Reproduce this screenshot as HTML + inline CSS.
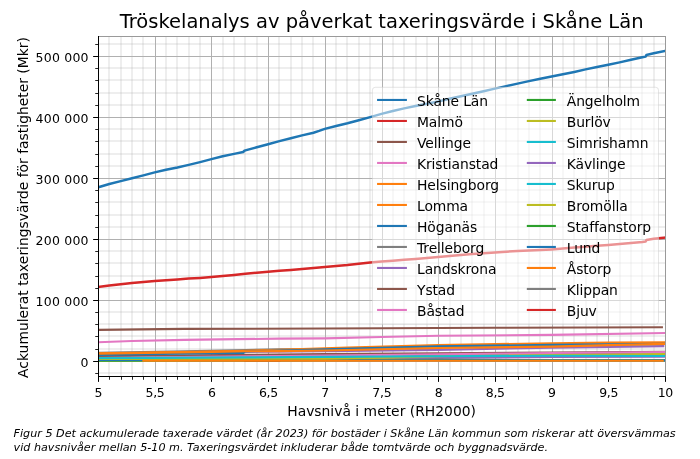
<!DOCTYPE html>
<html lang="sv"><head><meta charset="utf-8"><title>Tröskelanalys av påverkat taxeringsvärde i Skåne Län</title>
<style>html,body{margin:0;padding:0;background:#fff}svg{display:block;will-change:transform}text{font-family:"DejaVu Sans","Liberation Sans",sans-serif;fill:#000}</style>
</head><body>
<svg width="700" height="459" viewBox="0 0 700 459">
<rect x="0" y="0" width="700" height="459" fill="#fff"/>
<g stroke="#b0b0b0" stroke-opacity="0.21" stroke-width="2" fill="none">
<line x1="109" y1="36.5" x2="109" y2="376.5"/>
<line x1="121" y1="36.5" x2="121" y2="376.5"/>
<line x1="132" y1="36.5" x2="132" y2="376.5"/>
<line x1="143" y1="36.5" x2="143" y2="376.5"/>
<line x1="166" y1="36.5" x2="166" y2="376.5"/>
<line x1="177" y1="36.5" x2="177" y2="376.5"/>
<line x1="189" y1="36.5" x2="189" y2="376.5"/>
<line x1="200" y1="36.5" x2="200" y2="376.5"/>
<line x1="223" y1="36.5" x2="223" y2="376.5"/>
<line x1="234" y1="36.5" x2="234" y2="376.5"/>
<line x1="245" y1="36.5" x2="245" y2="376.5"/>
<line x1="257" y1="36.5" x2="257" y2="376.5"/>
<line x1="279" y1="36.5" x2="279" y2="376.5"/>
<line x1="291" y1="36.5" x2="291" y2="376.5"/>
<line x1="302" y1="36.5" x2="302" y2="376.5"/>
<line x1="313" y1="36.5" x2="313" y2="376.5"/>
<line x1="336" y1="36.5" x2="336" y2="376.5"/>
<line x1="347" y1="36.5" x2="347" y2="376.5"/>
<line x1="359" y1="36.5" x2="359" y2="376.5"/>
<line x1="370" y1="36.5" x2="370" y2="376.5"/>
<line x1="393" y1="36.5" x2="393" y2="376.5"/>
<line x1="404" y1="36.5" x2="404" y2="376.5"/>
<line x1="416" y1="36.5" x2="416" y2="376.5"/>
<line x1="427" y1="36.5" x2="427" y2="376.5"/>
<line x1="450" y1="36.5" x2="450" y2="376.5"/>
<line x1="461" y1="36.5" x2="461" y2="376.5"/>
<line x1="472" y1="36.5" x2="472" y2="376.5"/>
<line x1="484" y1="36.5" x2="484" y2="376.5"/>
<line x1="506" y1="36.5" x2="506" y2="376.5"/>
<line x1="518" y1="36.5" x2="518" y2="376.5"/>
<line x1="529" y1="36.5" x2="529" y2="376.5"/>
<line x1="540" y1="36.5" x2="540" y2="376.5"/>
<line x1="563" y1="36.5" x2="563" y2="376.5"/>
<line x1="574" y1="36.5" x2="574" y2="376.5"/>
<line x1="586" y1="36.5" x2="586" y2="376.5"/>
<line x1="597" y1="36.5" x2="597" y2="376.5"/>
<line x1="620" y1="36.5" x2="620" y2="376.5"/>
<line x1="631" y1="36.5" x2="631" y2="376.5"/>
<line x1="642" y1="36.5" x2="642" y2="376.5"/>
<line x1="654" y1="36.5" x2="654" y2="376.5"/>
<line x1="98.5" y1="373" x2="665.5" y2="373"/>
<line x1="98.5" y1="349" x2="665.5" y2="349"/>
<line x1="98.5" y1="336" x2="665.5" y2="336"/>
<line x1="98.5" y1="324" x2="665.5" y2="324"/>
<line x1="98.5" y1="312" x2="665.5" y2="312"/>
<line x1="98.5" y1="288" x2="665.5" y2="288"/>
<line x1="98.5" y1="276" x2="665.5" y2="276"/>
<line x1="98.5" y1="263" x2="665.5" y2="263"/>
<line x1="98.5" y1="251" x2="665.5" y2="251"/>
<line x1="98.5" y1="227" x2="665.5" y2="227"/>
<line x1="98.5" y1="215" x2="665.5" y2="215"/>
<line x1="98.5" y1="202" x2="665.5" y2="202"/>
<line x1="98.5" y1="190" x2="665.5" y2="190"/>
<line x1="98.5" y1="166" x2="665.5" y2="166"/>
<line x1="98.5" y1="154" x2="665.5" y2="154"/>
<line x1="98.5" y1="141" x2="665.5" y2="141"/>
<line x1="98.5" y1="129" x2="665.5" y2="129"/>
<line x1="98.5" y1="105" x2="665.5" y2="105"/>
<line x1="98.5" y1="93" x2="665.5" y2="93"/>
<line x1="98.5" y1="80" x2="665.5" y2="80"/>
<line x1="98.5" y1="68" x2="665.5" y2="68"/>
<line x1="98.5" y1="44" x2="665.5" y2="44"/>
</g>
<g stroke="#b0b0b0" stroke-width="1" fill="none">
<line x1="98.5" y1="36.5" x2="98.5" y2="376.5"/>
<line x1="155.5" y1="36.5" x2="155.5" y2="376.5"/>
<line x1="211.5" y1="36.5" x2="211.5" y2="376.5"/>
<line x1="268.5" y1="36.5" x2="268.5" y2="376.5"/>
<line x1="325.5" y1="36.5" x2="325.5" y2="376.5"/>
<line x1="382.5" y1="36.5" x2="382.5" y2="376.5"/>
<line x1="438.5" y1="36.5" x2="438.5" y2="376.5"/>
<line x1="495.5" y1="36.5" x2="495.5" y2="376.5"/>
<line x1="552.5" y1="36.5" x2="552.5" y2="376.5"/>
<line x1="608.5" y1="36.5" x2="608.5" y2="376.5"/>
<line x1="665.5" y1="36.5" x2="665.5" y2="376.5"/>
<line x1="98.5" y1="361.5" x2="665.5" y2="361.5"/>
<line x1="98.5" y1="300.5" x2="665.5" y2="300.5"/>
<line x1="98.5" y1="239.5" x2="665.5" y2="239.5"/>
<line x1="98.5" y1="178.5" x2="665.5" y2="178.5"/>
<line x1="98.5" y1="117.5" x2="665.5" y2="117.5"/>
<line x1="98.5" y1="56.5" x2="665.5" y2="56.5"/>
</g>
<clipPath id="ax"><rect x="98.5" y="36.5" width="567.0" height="340.0"/></clipPath>
<g clip-path="url(#ax)" fill="none" stroke-width="2.1" stroke-linejoin="round" stroke-linecap="square">
<polyline stroke="#d62728" points="245.4,360.9 279.4,360.9"/>
<polyline stroke="#7f7f7f" points="506.2,360.2 597.0,360.2"/>
<polyline stroke="#17becf" points="98.0,358.6 324.8,359.2 438.2,359.9 551.6,360.2 665.0,360.2"/>
<polyline stroke="#9467bd" points="98.0,360.0 245.4,359.4 324.8,359.0 438.2,358.0 551.6,357.0 665.0,356.8"/>
<polyline stroke="#bcbd22" points="98.0,360.6 211.4,359.6 324.8,358.7 392.8,359.6 438.2,360.3 665.0,360.4"/>
<polyline stroke="#2ca02c" points="98.0,360.7 324.8,360.2 438.2,359.9 551.6,360.2 665.0,360.3"/>
<polyline stroke="#1f77b4" points="98.0,360.0 143.4,360.0 324.8,360.2 551.6,360.4 665.0,360.4"/>
<polyline stroke="#2ca02c" points="98.0,359.0 245.4,358.7 324.8,357.8 438.2,355.7 551.6,354.6 665.0,353.9"/>
<polyline stroke="#bcbd22" points="98.0,359.0 324.8,358.7 438.2,356.2 551.6,354.4 665.0,354.0"/>
<polyline stroke="#8c564b" points="98.0,356.3 245.4,354.9 324.8,354.1 438.2,353.2 551.6,352.6 665.0,351.8"/>
<polyline stroke="#e377c2" points="98.0,358.0 245.4,356.3 324.8,355.5 438.2,354.2 551.6,353.0 665.0,352.0"/>
<polyline stroke="#17becf" points="98.0,358.1 245.4,357.4 324.8,356.9 438.2,356.3 551.6,355.7 665.0,356.0"/>
<polyline stroke="#9467bd" points="98.0,353.9 211.4,352.3 268.1,351.6 324.8,351.3 438.2,349.9 551.6,347.7 663.3,346.1"/>
<polyline stroke="#7f7f7f" points="98.0,352.7 184.2,351.2 245.4,350.0 279.4,349.3 324.8,349.0 438.2,346.5 551.6,345.0 665.0,344.0"/>
<polyline stroke="#1f77b4" stroke-width="2.5" points="98.0,187.4 109.3,184.0 120.7,181.1 132.0,178.3 143.4,175.4 154.7,172.4 166.0,169.8 177.4,167.5 188.7,164.9 200.1,162.1 211.4,159.1 222.7,156.3 234.1,153.9 243.2,152.0 244.5,150.7 245.4,150.4 256.8,147.3 268.1,144.2 279.4,141.1 290.8,138.2 302.1,135.4 313.5,132.7 319.1,130.9 324.8,128.9 336.1,126.0 347.5,123.3 358.8,120.3 370.2,117.1 381.5,113.9 392.8,111.0 404.2,108.4 415.5,106.0 426.9,103.8 438.2,101.5 449.5,98.8 460.9,96.2 472.2,93.7 483.6,91.2 494.9,88.6 506.2,86.1 517.6,83.6 528.9,81.1 540.3,78.8 551.6,76.5 562.9,74.2 574.3,71.9 585.6,69.4 597.0,67.1 608.3,64.8 619.6,62.4 631.0,59.8 642.3,57.3 645.7,56.6 646.4,55.0 653.7,53.3 665.0,50.9"/>
<polyline stroke="#d62728" stroke-width="2.5" points="98.0,286.9 109.3,285.5 120.7,284.2 132.0,283.1 143.4,282.1 154.7,281.1 166.0,280.3 177.4,279.5 188.7,278.6 200.1,277.9 211.4,277.0 222.7,276.0 234.1,274.9 245.4,273.8 256.8,272.8 268.1,271.8 279.4,270.8 290.8,269.9 302.1,269.1 313.5,268.1 324.8,267.0 336.1,266.0 347.5,265.0 358.8,263.7 370.2,262.4 381.5,261.6 392.8,260.8 404.2,259.8 415.5,258.9 426.9,257.9 438.2,257.0 449.5,256.0 460.9,255.1 472.2,254.1 483.6,253.2 494.9,252.4 506.2,251.7 517.6,251.0 528.9,250.4 540.3,250.0 551.6,249.4 562.9,248.6 574.3,247.6 585.6,246.7 597.0,245.7 608.3,244.9 619.6,243.9 631.0,242.9 642.3,242.0 645.7,241.5 646.4,240.0 653.7,238.8 665.0,237.5"/>
<polyline stroke="#8c564b" points="98.0,329.9 184.2,328.9 324.8,328.5 494.9,327.8 661.9,327.2"/>
<polyline stroke="#e377c2" points="98.0,342.2 132.0,341.0 184.2,339.9 279.4,338.6 324.8,338.4 381.5,337.0 438.2,335.7 551.6,334.9 665.0,333.0"/>
<polyline stroke="#ff7f0e" points="98.0,353.4 211.4,351.6 245.4,350.8 279.4,349.8 324.8,348.2 347.5,347.6 438.2,345.1 551.6,343.2 608.3,342.6 665.0,342.3"/>
<polyline stroke="#1f77b4" points="98.0,354.9 211.4,353.3 243.7,352.9 244.9,351.5 279.4,350.6 324.8,349.2 438.2,346.3 551.6,344.9 608.3,344.4 665.0,343.9"/>
<polyline stroke="#ff7f0e" points="98.0,353.7 211.4,351.9 245.4,351.3 279.4,351.1 324.8,350.5 438.2,348.0 551.6,346.6 608.3,345.1 665.0,343.9"/>
<polyline stroke="#ff7f0e" points="143.4,360.8 662.7,360.8"/>
</g>
<g fill="none" stroke-width="1" stroke-linecap="square">
<line x1="98.5" y1="36.5" x2="665.5" y2="36.5" stroke="#9a9a9a"/>
<line x1="665.5" y1="36.5" x2="665.5" y2="376.5" stroke="#9a9a9a"/>
<line x1="98.5" y1="36.5" x2="98.5" y2="376.5" stroke="#000"/>
<line x1="98.5" y1="376.5" x2="665.5" y2="376.5" stroke="#000"/>
</g>
<g stroke="#000" fill="none">
<line x1="98.5" y1="376.5" x2="98.5" y2="381.86" stroke-width="1"/>
<line x1="109.5" y1="376.5" x2="109.5" y2="379.78" stroke-width="0.85"/>
<line x1="121.5" y1="376.5" x2="121.5" y2="379.78" stroke-width="0.85"/>
<line x1="132.5" y1="376.5" x2="132.5" y2="379.78" stroke-width="0.85"/>
<line x1="143.5" y1="376.5" x2="143.5" y2="379.78" stroke-width="0.85"/>
<line x1="155.5" y1="376.5" x2="155.5" y2="381.86" stroke-width="1"/>
<line x1="166.5" y1="376.5" x2="166.5" y2="379.78" stroke-width="0.85"/>
<line x1="177.5" y1="376.5" x2="177.5" y2="379.78" stroke-width="0.85"/>
<line x1="189.5" y1="376.5" x2="189.5" y2="379.78" stroke-width="0.85"/>
<line x1="200.5" y1="376.5" x2="200.5" y2="379.78" stroke-width="0.85"/>
<line x1="211.5" y1="376.5" x2="211.5" y2="381.86" stroke-width="1"/>
<line x1="223.5" y1="376.5" x2="223.5" y2="379.78" stroke-width="0.85"/>
<line x1="234.5" y1="376.5" x2="234.5" y2="379.78" stroke-width="0.85"/>
<line x1="245.5" y1="376.5" x2="245.5" y2="379.78" stroke-width="0.85"/>
<line x1="257.5" y1="376.5" x2="257.5" y2="379.78" stroke-width="0.85"/>
<line x1="268.5" y1="376.5" x2="268.5" y2="381.86" stroke-width="1"/>
<line x1="279.5" y1="376.5" x2="279.5" y2="379.78" stroke-width="0.85"/>
<line x1="291.5" y1="376.5" x2="291.5" y2="379.78" stroke-width="0.85"/>
<line x1="302.5" y1="376.5" x2="302.5" y2="379.78" stroke-width="0.85"/>
<line x1="313.5" y1="376.5" x2="313.5" y2="379.78" stroke-width="0.85"/>
<line x1="325.5" y1="376.5" x2="325.5" y2="381.86" stroke-width="1"/>
<line x1="336.5" y1="376.5" x2="336.5" y2="379.78" stroke-width="0.85"/>
<line x1="347.5" y1="376.5" x2="347.5" y2="379.78" stroke-width="0.85"/>
<line x1="359.5" y1="376.5" x2="359.5" y2="379.78" stroke-width="0.85"/>
<line x1="370.5" y1="376.5" x2="370.5" y2="379.78" stroke-width="0.85"/>
<line x1="382.5" y1="376.5" x2="382.5" y2="381.86" stroke-width="1"/>
<line x1="393.5" y1="376.5" x2="393.5" y2="379.78" stroke-width="0.85"/>
<line x1="404.5" y1="376.5" x2="404.5" y2="379.78" stroke-width="0.85"/>
<line x1="416.5" y1="376.5" x2="416.5" y2="379.78" stroke-width="0.85"/>
<line x1="427.5" y1="376.5" x2="427.5" y2="379.78" stroke-width="0.85"/>
<line x1="438.5" y1="376.5" x2="438.5" y2="381.86" stroke-width="1"/>
<line x1="450.5" y1="376.5" x2="450.5" y2="379.78" stroke-width="0.85"/>
<line x1="461.5" y1="376.5" x2="461.5" y2="379.78" stroke-width="0.85"/>
<line x1="472.5" y1="376.5" x2="472.5" y2="379.78" stroke-width="0.85"/>
<line x1="484.5" y1="376.5" x2="484.5" y2="379.78" stroke-width="0.85"/>
<line x1="495.5" y1="376.5" x2="495.5" y2="381.86" stroke-width="1"/>
<line x1="506.5" y1="376.5" x2="506.5" y2="379.78" stroke-width="0.85"/>
<line x1="518.5" y1="376.5" x2="518.5" y2="379.78" stroke-width="0.85"/>
<line x1="529.5" y1="376.5" x2="529.5" y2="379.78" stroke-width="0.85"/>
<line x1="540.5" y1="376.5" x2="540.5" y2="379.78" stroke-width="0.85"/>
<line x1="552.5" y1="376.5" x2="552.5" y2="381.86" stroke-width="1"/>
<line x1="563.5" y1="376.5" x2="563.5" y2="379.78" stroke-width="0.85"/>
<line x1="574.5" y1="376.5" x2="574.5" y2="379.78" stroke-width="0.85"/>
<line x1="586.5" y1="376.5" x2="586.5" y2="379.78" stroke-width="0.85"/>
<line x1="597.5" y1="376.5" x2="597.5" y2="379.78" stroke-width="0.85"/>
<line x1="608.5" y1="376.5" x2="608.5" y2="381.86" stroke-width="1"/>
<line x1="620.5" y1="376.5" x2="620.5" y2="379.78" stroke-width="0.85"/>
<line x1="631.5" y1="376.5" x2="631.5" y2="379.78" stroke-width="0.85"/>
<line x1="642.5" y1="376.5" x2="642.5" y2="379.78" stroke-width="0.85"/>
<line x1="654.5" y1="376.5" x2="654.5" y2="379.78" stroke-width="0.85"/>
<line x1="665.5" y1="376.5" x2="665.5" y2="381.86" stroke-width="1"/>
<line x1="95.22" y1="373.5" x2="98.5" y2="373.5" stroke-width="0.85"/>
<line x1="93.14" y1="361.5" x2="98.5" y2="361.5" stroke-width="1"/>
<line x1="95.22" y1="349.5" x2="98.5" y2="349.5" stroke-width="0.85"/>
<line x1="95.22" y1="336.5" x2="98.5" y2="336.5" stroke-width="0.85"/>
<line x1="95.22" y1="324.5" x2="98.5" y2="324.5" stroke-width="0.85"/>
<line x1="95.22" y1="312.5" x2="98.5" y2="312.5" stroke-width="0.85"/>
<line x1="93.14" y1="300.5" x2="98.5" y2="300.5" stroke-width="1"/>
<line x1="95.22" y1="288.5" x2="98.5" y2="288.5" stroke-width="0.85"/>
<line x1="95.22" y1="276.5" x2="98.5" y2="276.5" stroke-width="0.85"/>
<line x1="95.22" y1="263.5" x2="98.5" y2="263.5" stroke-width="0.85"/>
<line x1="95.22" y1="251.5" x2="98.5" y2="251.5" stroke-width="0.85"/>
<line x1="93.14" y1="239.5" x2="98.5" y2="239.5" stroke-width="1"/>
<line x1="95.22" y1="227.5" x2="98.5" y2="227.5" stroke-width="0.85"/>
<line x1="95.22" y1="215.5" x2="98.5" y2="215.5" stroke-width="0.85"/>
<line x1="95.22" y1="202.5" x2="98.5" y2="202.5" stroke-width="0.85"/>
<line x1="95.22" y1="190.5" x2="98.5" y2="190.5" stroke-width="0.85"/>
<line x1="93.14" y1="178.5" x2="98.5" y2="178.5" stroke-width="1"/>
<line x1="95.22" y1="166.5" x2="98.5" y2="166.5" stroke-width="0.85"/>
<line x1="95.22" y1="154.5" x2="98.5" y2="154.5" stroke-width="0.85"/>
<line x1="95.22" y1="141.5" x2="98.5" y2="141.5" stroke-width="0.85"/>
<line x1="95.22" y1="129.5" x2="98.5" y2="129.5" stroke-width="0.85"/>
<line x1="93.14" y1="117.5" x2="98.5" y2="117.5" stroke-width="1"/>
<line x1="95.22" y1="105.5" x2="98.5" y2="105.5" stroke-width="0.85"/>
<line x1="95.22" y1="93.5" x2="98.5" y2="93.5" stroke-width="0.85"/>
<line x1="95.22" y1="80.5" x2="98.5" y2="80.5" stroke-width="0.85"/>
<line x1="95.22" y1="68.5" x2="98.5" y2="68.5" stroke-width="0.85"/>
<line x1="93.14" y1="56.5" x2="98.5" y2="56.5" stroke-width="1"/>
<line x1="95.22" y1="44.5" x2="98.5" y2="44.5" stroke-width="0.85"/>
</g>
<g font-size="12.5" text-anchor="middle" letter-spacing="-0.3">
<text x="98.35" y="396.7">5</text>
<text x="155.05" y="396.7">5,5</text>
<text x="211.75" y="396.7">6</text>
<text x="268.45" y="396.7">6,5</text>
<text x="325.15" y="396.7">7</text>
<text x="381.85" y="396.7">7,5</text>
<text x="438.55" y="396.7">8</text>
<text x="495.25" y="396.7">8,5</text>
<text x="551.95" y="396.7">9</text>
<text x="608.65" y="396.7">9,5</text>
<text x="665.35" y="396.7">10</text>
</g>
<g font-size="12.5" text-anchor="end" letter-spacing="0.2">
<text x="88.7" y="366.70">0</text>
<text x="88.7" y="305.75">100 000</text>
<text x="88.7" y="244.80">200 000</text>
<text x="88.7" y="183.85">300 000</text>
<text x="88.7" y="122.90">400 000</text>
<text x="88.7" y="61.95">500 000</text>
</g>
<text x="381.6" y="416" font-size="13.89" text-anchor="middle">Havsnivå i meter (RH2000)</text>
<text transform="translate(27.7 207.5) rotate(-90)" font-size="13.89" text-anchor="middle">Ackumulerat taxeringsvärde för fastigheter (Mkr)</text>
<text x="381.6" y="28.1" font-size="19.5" text-anchor="middle">Tröskelanalys av påverkat taxeringsvärde i Skåne Län</text>
<rect x="372.4" y="87.3" width="286.1" height="236.9" rx="2.8" ry="2.8" fill="#fff" fill-opacity="0.5" stroke="#ccc" stroke-opacity="0.5" stroke-width="1"/>
<g fill="none" stroke-width="2.08" stroke-linecap="square">
<line x1="378.1" y1="99.95" x2="405.88" y2="99.95" stroke="#1f77b4"/>
<line x1="378.1" y1="120.95" x2="405.88" y2="120.95" stroke="#d62728"/>
<line x1="378.1" y1="141.95" x2="405.88" y2="141.95" stroke="#8c564b"/>
<line x1="378.1" y1="162.95" x2="405.88" y2="162.95" stroke="#e377c2"/>
<line x1="378.1" y1="183.95" x2="405.88" y2="183.95" stroke="#ff7f0e"/>
<line x1="378.1" y1="204.95" x2="405.88" y2="204.95" stroke="#ff7f0e"/>
<line x1="378.1" y1="225.95" x2="405.88" y2="225.95" stroke="#1f77b4"/>
<line x1="378.1" y1="246.95" x2="405.88" y2="246.95" stroke="#7f7f7f"/>
<line x1="378.1" y1="267.95" x2="405.88" y2="267.95" stroke="#9467bd"/>
<line x1="378.1" y1="288.95" x2="405.88" y2="288.95" stroke="#8c564b"/>
<line x1="378.1" y1="309.95" x2="405.88" y2="309.95" stroke="#e377c2"/>
<line x1="527.85" y1="99.95" x2="554.85" y2="99.95" stroke="#2ca02c"/>
<line x1="527.85" y1="120.95" x2="554.85" y2="120.95" stroke="#bcbd22"/>
<line x1="527.85" y1="141.95" x2="554.85" y2="141.95" stroke="#17becf"/>
<line x1="527.85" y1="162.95" x2="554.85" y2="162.95" stroke="#9467bd"/>
<line x1="527.85" y1="183.95" x2="554.85" y2="183.95" stroke="#17becf"/>
<line x1="527.85" y1="204.95" x2="554.85" y2="204.95" stroke="#bcbd22"/>
<line x1="527.85" y1="225.95" x2="554.85" y2="225.95" stroke="#2ca02c"/>
<line x1="527.85" y1="246.95" x2="554.85" y2="246.95" stroke="#1f77b4"/>
<line x1="527.85" y1="267.95" x2="554.85" y2="267.95" stroke="#ff7f0e"/>
<line x1="527.85" y1="288.95" x2="554.85" y2="288.95" stroke="#7f7f7f"/>
<line x1="527.85" y1="309.95" x2="554.85" y2="309.95" stroke="#d62728"/>
</g>
<g font-size="13.89" letter-spacing="-0.1">
<text x="417.0" y="105.75">Skåne Län</text>
<text x="417.0" y="126.75">Malmö</text>
<text x="417.0" y="147.75">Vellinge</text>
<text x="417.0" y="168.75">Kristianstad</text>
<text x="417.0" y="189.75">Helsingborg</text>
<text x="417.0" y="210.75">Lomma</text>
<text x="417.0" y="231.75">Höganäs</text>
<text x="417.0" y="252.75">Trelleborg</text>
<text x="417.0" y="273.75">Landskrona</text>
<text x="417.0" y="294.75">Ystad</text>
<text x="417.0" y="315.75">Båstad</text>
<text x="566.75" y="105.75">Ängelholm</text>
<text x="566.75" y="126.75">Burlöv</text>
<text x="566.75" y="147.75">Simrishamn</text>
<text x="566.75" y="168.75">Kävlinge</text>
<text x="566.75" y="189.75">Skurup</text>
<text x="566.75" y="210.75">Bromölla</text>
<text x="566.75" y="231.75">Staffanstorp</text>
<text x="566.75" y="252.75">Lund</text>
<text x="566.75" y="273.75">Åstorp</text>
<text x="566.75" y="294.75">Klippan</text>
<text x="566.75" y="315.75">Bjuv</text>
</g>
<g font-size="11.17" font-style="italic">
<text x="13.6" y="437.1">Figur 5 Det ackumulerade taxerade värdet (år 2023) för bostäder i Skåne Län kommun som riskerar att översvämmas</text>
<text x="13.6" y="450.9">vid havsnivåer mellan 5-10 m. Taxeringsvärdet inkluderar både tomtvärde och byggnadsvärde.</text>
</g>
</svg></body></html>
